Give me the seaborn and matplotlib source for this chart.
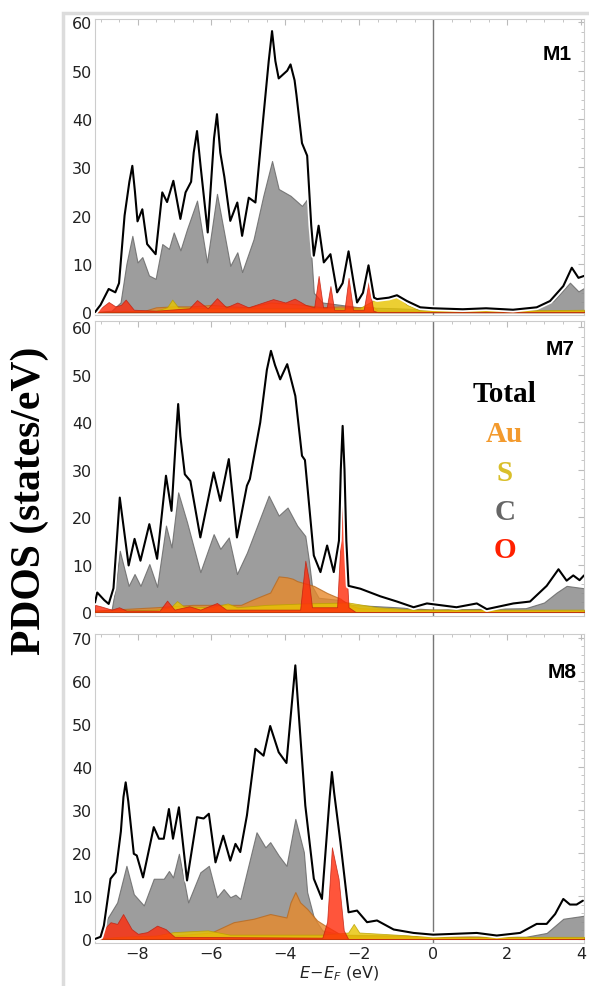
import numpy as np
import pandas as pd
import seaborn as sns
import matplotlib.pyplot as plt
import matplotlib.patheffects as pe
from matplotlib.patches import Rectangle

# ---- M1 ----
m1_total_e = [-9.15, -9.0, -8.78, -8.6, -8.5, -8.35, -8.22, -8.14, -8.07, -8.0, -7.87, -7.74, -7.51, -7.33,
              -7.2, -7.03, -6.84, -6.7, -6.55, -6.48, -6.39, -6.29, -6.1, -5.93, -5.85, -5.76, -5.65, -5.49,
              -5.3, -5.17, -4.99, -4.81, -4.6, -4.45, -4.36, -4.27, -4.18, -3.95, -3.86, -3.75, -3.7, -3.55,
              -3.41, -3.3, -3.23, -3.1, -2.96, -2.78, -2.6, -2.45, -2.29, -2.15, -2.06, -1.9, -1.75, -1.6,
              -1.52, -1.2, -0.98, -0.71, -0.35, 0, 0.8, 1.43, 2.16, 2.8, 3.16, 3.52, 3.75, 3.93, 4.08]
m1_total = [0, 1.5, 4.8, 4.1, 6, 20, 27, 30.3, 25, 18.8, 21.3, 14.1, 12, 24.8,
            22.8, 27.2, 19.3, 24.8, 27, 33, 37.5, 30, 16.5, 36, 41, 33, 28, 18.9,
            22.7, 15.8, 23.7, 22.7, 40, 52, 58.2, 52, 48.4, 50, 51.3, 48, 45, 35,
            32.4, 18, 11.7, 17.9, 10.3, 12, 4.1, 6, 12.6, 6, 2, 4, 9.7, 3,
            2.7, 3, 3.5, 2.3, 1, 0.8, 0.6, 0.8, 0.5, 1, 2.3, 5.4, 9.2, 7.1, 7.5]
m1_c_e = [-9.15, -8.7, -8.46, -8.3, -8.14, -8.0, -7.87, -7.69, -7.51, -7.33, -7.15, -7.02, -6.84, -6.66,
          -6.39, -6.12, -5.85, -5.49, -5.3, -5.17, -4.86, -4.6, -4.36, -4.18, -3.86, -3.55, -3.41, -3.3,
          -3.23, -3.0, -2.5, -2.0, -1.0, 0, 2.5, 3.25, 3.7, 3.93, 4.08]
m1_c = [0, 0.3, 2, 10, 15.8, 10.3, 11.4, 7.6, 6.9, 14.1, 13.1, 16.5, 12.8, 17.2,
        23.1, 10.3, 24.5, 9.6, 12.4, 8.3, 15.1, 24, 31.3, 25.5, 24.1, 22, 23.4, 12,
        4, 2, 1.5, 1, 0.8, 0.5, 0.5, 2.3, 6.1, 4.3, 5]
m1_au_e = [-9.15, -7.8, -7.5, -7.0, -6.5, -6.0, -5.5, -5.0, -4.4, -4.0, -3.5, -3.0, -2.5, -2.0, -1.6, -1.5, 0, 4.08]
m1_au = [0, 0.3, 1, 1.2, 1.2, 1.5, 1.2, 1, 2, 1.8, 1.5, 1, 1.2, 1, 1, 0.3, 0.3, 0.3]
m1_s_e = [-9.15, -7.5, -7.2, -7.06, -6.9, -6.0, -4.0, -2.0, -1.6, -1.43, -1.1, -0.98, -0.71, -0.4, 0, 3.0, 4.08]
m1_s = [0, 0.3, 1, 2.6, 1, 0.8, 0.8, 0.8, 2.5, 3, 3, 3.5, 1.5, 0.5, 0.4, 0.4, 0.5]
m1_o_e = [-9.15, -9.0, -8.78, -8.6, -8.45, -8.32, -8.1, -7.5, -6.6, -6.39, -6.1, -5.85, -5.6, -5.3, -5.0,
          -4.33, -4.0, -3.75, -3.45, -3.22, -3.1, -2.98, -2.88, -2.78, -2.68, -2.4, -2.29, -2.17, -1.88,
          -1.75, -1.62, -1.5, 4.08]
m1_o = [0, 0.8, 2.1, 1.2, 1.5, 2.6, 0.5, 0.3, 0.8, 2.5, 0.8, 2.9, 1, 2, 1,
        2.7, 2, 2.8, 1.5, 1, 7.5, 1, 1, 5.4, 0.5, 0.5, 7.1, 0.5, 0.5,
        6.2, 0.3, 0, 0]

# ---- M7 ----
m7_total_e = [-9.15, -9.09, -8.9, -8.78, -8.65, -8.48, -8.24, -8.08, -7.92, -7.68, -7.47, -7.23, -7.08, -6.95,
              -6.9, -6.84, -6.72, -6.57, -6.3, -5.94, -5.76, -5.53, -5.31, -5.04, -4.96, -4.68, -4.5, -4.39,
              -4.28, -4.14, -3.95, -3.73, -3.55, -3.47, -3.23, -3.05, -2.87, -2.69, -2.55, -2.5, -2.45, -2.4,
              -2.35, -2.29, -1.97, -1.43, -0.98, -0.53, -0.17, 0.63, 1.18, 1.45, 2.17, 2.62, 3.07, 3.39,
              3.61, 3.79, 3.96, 4.08]
m7_total = [2, 4.1, 2.5, 1.7, 5, 24.1, 9.8, 15.4, 10.8, 18.5, 11.2, 28.7, 21.3, 38,
            43.8, 37, 29, 27.6, 15.7, 29.4, 23.4, 32.2, 15.7, 26.6, 28, 39.9, 51, 55,
            52, 49, 52.2, 45.5, 32.9, 32, 11.9, 8.4, 14, 8.4, 15, 30, 39.2, 30,
            15, 5.5, 4.9, 3.3, 2.2, 1, 1.8, 1, 1.8, 0.6, 1.8, 2.2, 5.5, 9,
            6.6, 7.7, 6.7, 7.7]
m7_c_e = [-9.15, -8.7, -8.6, -8.48, -8.24, -8.08, -7.92, -7.68, -7.47, -7.23, -7.08, -6.9, -6.66, -6.3,
          -5.94, -5.76, -5.53, -5.31, -5.04, -4.45, -4.18, -3.94, -3.68, -3.46, -3.37, -3.28, -3.1, -2.5,
          -2.2, -1.0, 0, 2.5, 3.0, 3.34, 3.61, 4.08]
m7_c = [0, 0.5, 5, 12.9, 5.5, 8, 5.5, 10.1, 5.3, 18.2, 13.6, 25.2, 18.9, 8.4,
        16.4, 13.3, 15.7, 8, 12.5, 24.5, 20.3, 22, 18.2, 16, 11.2, 5.5, 3, 2.5,
        1.5, 1, 0.5, 0.8, 2, 4.1, 5.5, 5]
m7_au_e = [-9.15, -7.5, -6.5, -5.2, -4.86, -4.41, -4.18, -3.95, -3.8, -3.68, -3.23, -2.87, -2.51, -2.29, -2.0, -1.0, 4.08]
m7_au = [0.3, 1, 1.5, 1.5, 2.7, 4.1, 7.5, 7.3, 7, 6.5, 5.5, 4, 2.8, 1.5, 0.8, 0.5, 0.3]
m7_s_e = [-9.15, -7.5, -7.1, -6.93, -6.75, -6.0, -5.56, -5.3, -4.5, -3.5, -2.3, -1.5, -0.5, 4.08]
m7_s = [0.2, 0.5, 1, 2.3, 1.2, 1, 1.8, 1, 1.5, 1.8, 2, 1, 0.5, 0.5]
m7_o_e = [-9.15, -9.0, -8.7, -8.5, -8.3, -7.4, -7.2, -7.0, -6.6, -6.3, -5.85, -5.6, -3.6, -3.46, -3.37,
          -3.28, -2.6, -2.45, -2.29, -2.1, 4.08]
m7_o = [1.5, 1.2, 0.5, 1, 0.3, 0.3, 2.4, 0.5, 1.2, 0.5, 1.9, 0.5, 0.5, 10.8, 7,
        1, 1, 23.8, 1, 0, 0]

# ---- M8 ----
m8_total_e = [-9.15, -9.0, -8.91, -8.73, -8.59, -8.45, -8.38, -8.32, -8.25, -8.1, -8.02, -7.85, -7.56, -7.42,
              -7.29, -7.15, -7.04, -6.88, -6.66, -6.39, -6.21, -6.07, -5.89, -5.68, -5.49, -5.35, -5.22, -5.04,
              -4.81, -4.59, -4.41, -4.18, -3.97, -3.8, -3.73, -3.66, -3.46, -3.23, -3.01, -2.8, -2.74, -2.68,
              -2.51, -2.29, -2.06, -1.79, -1.52, -1.07, -0.53, 0, 1.18, 1.72, 2.35, 2.8, 3.07, 3.3,
              3.52, 3.7, 3.88, 4.05]
m8_total = [0, 0.5, 3.1, 14, 15.5, 25, 33, 36.4, 32, 19.8, 19.4, 14.3, 26, 23.3,
            23.3, 30.2, 23.3, 30.6, 13.6, 28.3, 28, 29.1, 17.8, 24, 18.2, 22.1, 20.2, 28.7,
            44.2, 42.6, 49.5, 43.4, 40.9, 57, 63.6, 55, 31, 14, 9.3, 33, 38.8, 34,
            22.5, 6.2, 6.6, 3.9, 4.3, 2.2, 1.4, 1, 1.4, 0.8, 1.4, 3.5, 3.5, 5.8,
            9.3, 8, 8, 8.9]
m8_c_e = [-9.15, -8.95, -8.82, -8.55, -8.3, -8.1, -7.83, -7.56, -7.29, -7.15, -7.04, -6.88, -6.63, -6.3,
          -6.07, -5.85, -5.67, -5.49, -5.35, -5.22, -4.78, -4.54, -4.41, -4.18, -3.97, -3.73, -3.5, -3.41,
          -3.23, -3.0, -2.5, -1.0, 0, 2.5, 3.07, 3.52, 4.08]
m8_c = [0, 1, 4.7, 8.5, 17, 10.4, 7.8, 14, 14, 15.8, 14.3, 19.8, 8.5, 15.5,
        17, 9.7, 11.6, 9.7, 10.3, 9.3, 24.8, 21.3, 22.5, 19.4, 17, 27.9, 20.2, 10.9,
        5, 2, 1, 0.8, 0.5, 0.5, 1.4, 4.7, 5.4]
m8_au_e = [-9.15, -8.0, -7.0, -6.0, -5.4, -4.86, -4.41, -3.97, -3.86, -3.73, -3.6, -3.41, -3.14, -2.92, -2.5, -2.0, 4.08]
m8_au = [0, 0.5, 0.8, 1.5, 3.9, 4.7, 5.8, 5, 8.5, 10.9, 8.5, 7, 4.3, 3.1, 1, 0.8, 0.3]
m8_s_e = [-9.15, -8.5, -7.5, -7.02, -6.1, -5.5, -3.0, -2.3, -2.15, -2.0, -1.0, 0, 4.08]
m8_s = [0, 0.5, 0.8, 1.6, 2, 1, 1, 1.5, 3.5, 1.5, 1, 0.5, 0.5]
m8_o_e = [-9.15, -8.91, -8.73, -8.55, -8.39, -8.16, -7.99, -7.74, -7.47, -7.24, -7.0, -3.0, -2.87, -2.74,
          -2.56, -2.42, -2.3, 4.08]
m8_o = [0, 2.3, 3.9, 3.5, 5.8, 2.3, 1.2, 1.6, 3.1, 2.3, 0.5, 0.3, 4, 21.3,
        14, 2, 0, 0]

panel_names = ["M1", "M7", "M8"]
legend_names = ["Total", "Au", "S", "C", "O"]
xticks = [-8, -6, -4, -2, 0, 2, 4]

colors = {"Total": "black", "Au": "#e8892a", "S": "#e8c400", "C": "#8c8c8c", "O": "#ff2a0a"}
legend_colors = {"Total": "black", "Au": "#f39a2d", "S": "#d9bf2a", "C": "#666666", "O": "#ff2000"}

panels = [
    dict(total=(m1_total_e, m1_total), c=(m1_c_e, m1_c), au=(m1_au_e, m1_au), s=(m1_s_e, m1_s),
         o=(m1_o_e, m1_o), ylim=(-0.6, 60.7), yticks=range(0, 61, 10), rect=[0.1613, 0.6798, 0.8302, 0.2999]),
    dict(total=(m7_total_e, m7_total), c=(m7_c_e, m7_c), au=(m7_au_e, m7_au), s=(m7_s_e, m7_s),
         o=(m7_o_e, m7_o), ylim=(-0.84, 61.3), yticks=range(0, 61, 10), rect=[0.1613, 0.3749, 0.8302, 0.2989]),
    dict(total=(m8_total_e, m8_total), c=(m8_c_e, m8_c), au=(m8_au_e, m8_au), s=(m8_s_e, m8_s),
         o=(m8_o_e, m8_o), ylim=(-0.93, 70.9), yticks=range(0, 71, 10), rect=[0.1613, 0.0436, 0.8302, 0.3131]),
]

sns.set_style("white")
plt.rcParams["text.color"] = "black"
fig = plt.figure(figsize=(5.89, 9.87), dpi=100)

# light outer frame like the screenshot
fig.patches.append(Rectangle((63 / 589, -0.01), 0.98, 1 - 14 / 987 + 0.01, transform=fig.transFigure,
                             fill=False, edgecolor="#dcdcdc", linewidth=2.5, zorder=0))

label_pos = [(0.975, 0.882), (0.98, 0.905), (0.985, 0.88)]

for i, p in enumerate(panels):
    ax = fig.add_axes(p["rect"])
    ax.fill_between(*p["c"], color=colors["C"], alpha=0.85, linewidth=0.8, edgecolor="#6a6a6a", zorder=2)
    ax.fill_between(*p["au"], color=colors["Au"], alpha=0.8, linewidth=0.8, edgecolor="#b86a20", zorder=3)
    ax.fill_between(*p["s"], color=colors["S"], alpha=0.8, linewidth=0.6, edgecolor="#b8a000", zorder=3)
    ax.fill_between(*p["o"], color=colors["O"], alpha=0.8, linewidth=0.6, edgecolor="#c02010", zorder=4)
    df = pd.DataFrame({"E": p["total"][0], "dos": p["total"][1]})
    sns.lineplot(data=df, x="E", y="dos", ax=ax, color="black", linewidth=1.5, sort=False, zorder=5,
                 path_effects=[pe.Stroke(linewidth=4, foreground="white"), pe.Normal()])
    ax.axvline(0, color="#777777", linewidth=1, zorder=1)

    ax.set_xlim(-9.15, 4.08)
    ax.set_ylim(*p["ylim"])
    ax.set_yticks(list(p["yticks"]))
    ax.set_xticks(xticks)
    ax.set_yticks(np.arange(0, p["ylim"][1], 2), minor=True)
    ax.set_xticks(np.arange(-9, 4.1, 0.5), minor=True)
    ax.tick_params(which="both", direction="in", color="#bbbbbb", top=True, right=True,
                   labelsize=11.5, labelcolor="#222222", pad=2)
    ax.tick_params(which="major", length=4)
    ax.tick_params(which="minor", length=2)
    for s in ax.spines.values():
        s.set_color("#cccccc")
    ax.set_ylabel("")
    ax.set_xlabel("")
    if i < 2:
        ax.set_xticklabels([])
    else:
        ax.set_xticklabels([str(t).replace("-", "\u2212") for t in xticks])
        ax.set_xlabel(r"$E\!-\!E_F$ (eV)", fontsize=11.5, color="#222222", labelpad=2)

    ax.text(label_pos[i][0], label_pos[i][1], panel_names[i], transform=ax.transAxes, ha="right",
            va="center", fontsize=15, fontweight="bold", family="Liberation Sans", color="black", zorder=6)

    if i == 1:
        ys = [0.753, 0.617, 0.488, 0.353, 0.227]
        for name, yy in zip(legend_names, ys):
            ax.text(0.838, yy, name, transform=ax.transAxes, ha="center", va="center",
                    fontsize=21, fontweight="bold", family="Liberation Serif",
                    color=legend_colors[name], zorder=6)

fig.text(0.051, 0.493, "PDOS (states/eV)", rotation=90, ha="center", va="center",
         fontsize=30, fontweight="bold", family="Liberation Serif", color="black")

fig.savefig("out.png", dpi=100)
